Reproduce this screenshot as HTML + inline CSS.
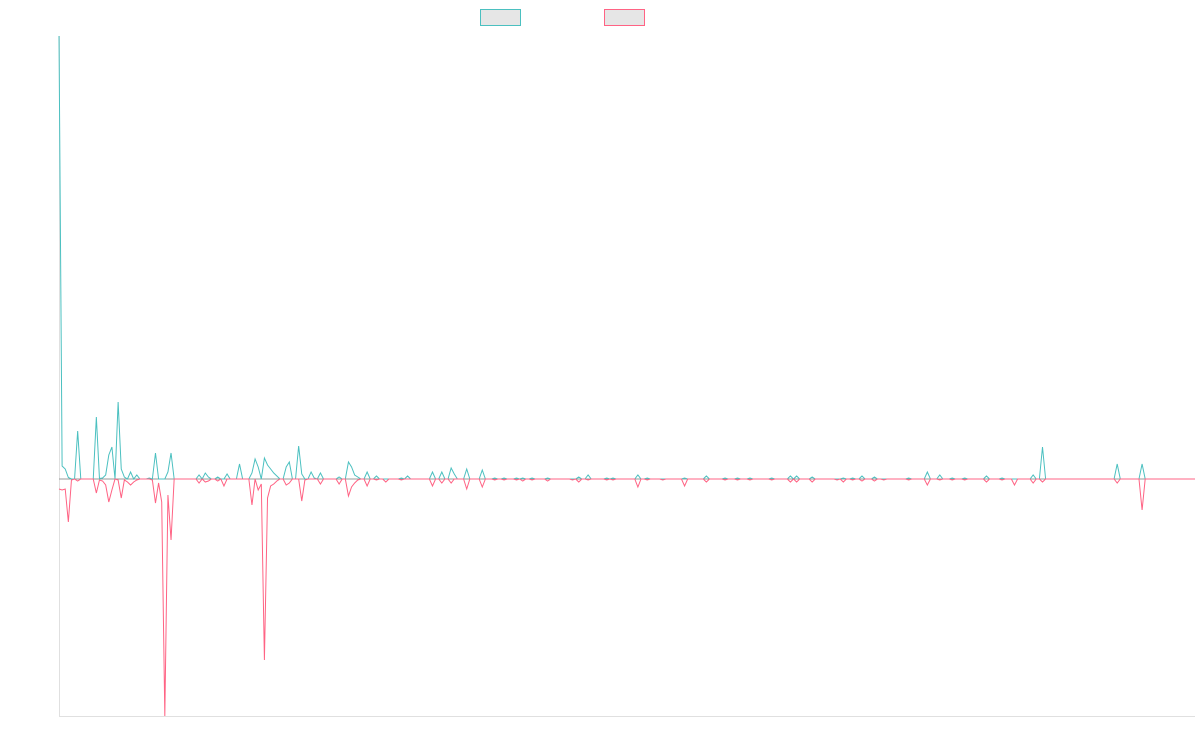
<!DOCTYPE html>
<html><head><meta charset="utf-8"><style>
html,body{margin:0;padding:0;background:#fff;}
svg{display:block;font-family:"Liberation Sans",sans-serif;}
</style></head><body>
<svg id="chart" width="1200" height="750" viewBox="0 0 1200 750" xmlns="http://www.w3.org/2000/svg">
  <g>
    <rect x="480.5" y="9.5" width="40" height="16" fill="#e6e6e6" stroke="#4bc0c0" stroke-width="1"/>
    <rect x="604.5" y="9.5" width="40" height="16" fill="#e6e6e6" stroke="#ff6384" stroke-width="1"/>
  </g>
  <line x1="59.5" y1="36" x2="59.5" y2="716" stroke="#e0e0e0"/>
  <line x1="59" y1="716.5" x2="1195" y2="716.5" stroke="#e0e0e0"/>
  <g id="plot"></g>
</svg>
<script>
const tealValues = [
443,13,10,1.5,0,0,48,0,0,0,0,0,62,0.5,1,4,24,32,0,77,
10,2,0,7,0,4,0,0,0,1,0,26,0,0,0,7,26,0,0,0,
0,0,0,0,0,4,0,6,2,0,0,2,0,0,5,0,0,0,15,0,
0,0,6,20,12,0,21,14,10,6,3,0,0,12,17,0,0,33,5,0,
0,7,1,0,6,0,0,0,0,0,2,0,0,17,12,4,2,0,0,7,
0,0,3,0,0,0,0,0,0,0,1,0,3,0,0,0,0,0,0,0,
7,0,0,7,0,0,11,5,0,0,0,10,0,0,0,0,9,0,0,0,
1,0,0,1,0,0,0,1,0,1,0,0,1,0,0,0,0,1,0,0,
0,0,0,0,0,0,0,2,0,0,4,0,0,0,0,0,1,0,1,0,
0,0,0,0,0,0,4,0,0,1,0,0,0,0,0,0,0,0,0,0,
0,1,0,0,0,0,0,0,3,0,0,0,0,0,1,0,0,0,1,0,
0,0,1,0,0,0,0,0,0,1,0,0,0,0,0,3,0,3,0,0,
0,0,2,0,0,0,0,0,0,0,0,0,1,0,0,1,0,0,3,0,
0,0,2,0,0,0,0,0,0,0,0,0,0,1,0,0,0,0,0,7,
0,0,0,4,0,0,0,1,0,0,0,1,0,0,0,0,0,0,3,0,
0,0,0,1,0,0,0,0,0,0,0,0,0,4,0,0,32,0,0,0,
0,0,0,0,0,0,0,0,0,0,0,0,0,0,0,0,0,0,0,0,
15,0,0,0,0,0,0,0,15,0,0,0,0,0,0,0,0,0,0,0,
0,0,0,0,0,0
];
const pinkValues = [
-10,-11,-10,-43,-1,0,-2,0,0,0,0,0,-14,-1,-2,-6,-23,-11,0,-1,
-19,-1,-3,-6,-3,-1,0,0,0,0,-1,-24,-4,-23,-237,-16,-61,0,0,0,
0,0,0,0,0,-4,0,-3,-2,0,0,-2,0,-7,0,0,0,0,0,0,
0,0,-26,0,-11,-5,-181,-19,-7,-5,-2,0,0,-6,-4,0,0,0,-22,-1,
0,0,0,0,-5,0,0,0,0,0,-5,0,0,-17,-8,-4,-1,0,0,-7,
0,0,-1,0,0,-3,0,0,0,0,-1,0,0,0,0,0,0,0,0,0,
-7,0,0,-4,0,0,-4,0,0,0,0,-10,0,0,0,0,-8,0,0,0,
-1,0,0,-1,0,0,0,-1,0,-2,0,0,-1,0,0,0,0,-2,0,0,
0,0,0,0,0,-1,0,-3,0,0,-1,0,0,0,0,0,-1,0,-1,0,
0,0,0,0,0,0,-8,0,0,-1,0,0,0,0,-1,0,0,0,0,0,
0,-7,0,0,0,0,0,0,-3,0,0,0,0,0,-1,0,0,0,-1,0,
0,0,-1,0,0,0,0,0,0,-1,0,0,0,0,0,-3,0,-3,0,0,
0,0,-3,0,0,0,0,0,0,0,-1,0,-3,0,0,-1,0,0,-2,0,
0,0,-2,0,0,-1,0,0,0,0,0,0,0,-1,0,0,0,0,0,-6,
0,0,0,-1,0,0,0,-1,0,0,0,-1,0,0,0,0,0,0,-3,0,
0,0,0,-1,0,0,0,-6,0,0,0,0,0,-4,0,0,-3,0,0,0,
0,0,0,0,0,0,0,0,0,0,0,0,0,0,0,0,0,0,0,0,
-4,0,0,0,0,0,0,0,-31,0,0,0,0,0,0,0,0,0,0,0,
0,0,0,0,0,0
];
const yDomain = [-237, 443];

const X0 = 59, X1 = 1195, Y0 = 716, Y1 = 36;
const n = Math.max(tealValues.length, pinkValues.length);
function xScale(i){ return X0 + (X1 - X0) * i / (n - 1); }
function yScale(v){ return Y0 - (v - yDomain[0]) / (yDomain[1] - yDomain[0]) * (Y0 - Y1); }

const NS = "http://www.w3.org/2000/svg";
const plot = document.getElementById('plot');

const zero = document.createElementNS(NS, 'line');


zero.setAttribute('x1', X0); zero.setAttribute('x2', X1);
zero.setAttribute('y1', yScale(0)); zero.setAttribute('y2', yScale(0));
zero.setAttribute('stroke', '#9a9a9a'); zero.setAttribute('stroke-width', '1');
plot.appendChild(zero);

function drawSeries(vals, color, name){
  const pts = vals.map((v, i) => xScale(i).toFixed(2) + ',' + yScale(v).toFixed(2)).join(' ');
  const pl = document.createElementNS(NS, 'polyline');
  
  
  pl.setAttribute('points', pts);
  pl.setAttribute('fill', 'none');
  pl.setAttribute('stroke', color);
  pl.setAttribute('stroke-width', '1');
  pl.setAttribute('stroke-linejoin', 'miter');
  plot.appendChild(pl);
}
drawSeries(tealValues, '#4bc0c0', 'teal-series-line');
drawSeries(pinkValues, '#ff6384', 'pink-series-line');
</script>
</body></html>
